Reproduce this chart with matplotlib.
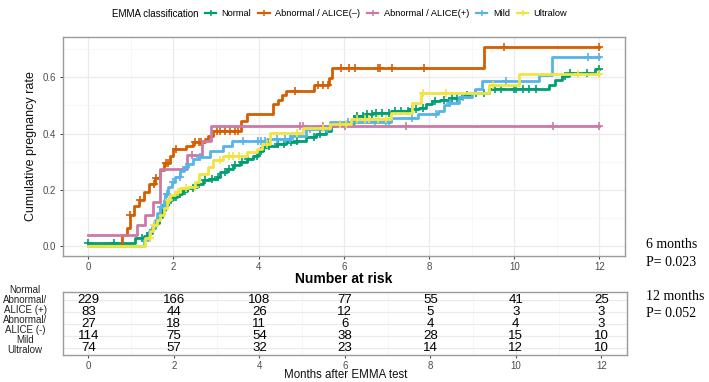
import numpy as np
import matplotlib
matplotlib.use("Agg")
import matplotlib.pyplot as plt
from matplotlib.lines import Line2D

plt.rcParams['font.family'] = ['Liberation Sans Narrow', 'Liberation Sans', 'DejaVu Sans']

# groups / colours (legend order)
groups = ["Normal", "Abnormal / ALICE(\u2013)", "Abnormal / ALICE(+)", "Mild", "Ultralow"]
colors = ["#009E73", "#D55E00", "#CC79A7", "#56B4E9", "#F0E442"]

# step curves: event times (months) and cumulative rate after each step
normal_t = [0, 1.10, 1.30, 1.38, 1.50, 1.57, 1.65, 1.73, 1.81, 1.88, 1.96, 2.08, 2.20, 2.31, 2.47,
            2.55, 2.70, 2.86, 3.02, 3.09, 3.25, 3.40, 3.56, 3.72, 3.87, 3.99, 4.11, 4.19, 4.42, 4.65,
            4.89, 5.12, 5.35, 5.59, 5.71, 5.82, 6.05, 6.25, 6.52, 6.68, 7.11, 7.54, 7.77, 7.93, 8.08,
            8.25, 8.47, 8.78, 8.98, 9.41, 10.81, 10.95, 11.12, 11.28, 11.90]
normal_v = [0.009, 0.027, 0.033, 0.045, 0.062, 0.080, 0.103, 0.127, 0.145, 0.162, 0.174, 0.186, 0.195,
            0.204, 0.209, 0.221, 0.233, 0.239, 0.245, 0.262, 0.274, 0.286, 0.298, 0.310, 0.321, 0.339,
            0.351, 0.357, 0.363, 0.368, 0.374, 0.386, 0.398, 0.410, 0.427, 0.433, 0.439, 0.462, 0.468,
            0.474, 0.480, 0.486, 0.492, 0.504, 0.515, 0.521, 0.527, 0.539, 0.545, 0.560, 0.574, 0.592,
            0.604, 0.615, 0.630]
normal_cens = [0.0, 0.6, 1.25, 1.45, 1.62, 1.75, 1.82, 1.95, 2.05, 2.15, 2.28, 2.45, 2.6, 2.75, 2.9,
               3.05, 3.2, 3.3, 3.45, 3.6, 3.75, 3.95, 4.05, 4.25, 4.45, 4.6, 4.75, 4.9, 5.3, 5.45, 6.3,
               6.45, 6.55, 6.65, 6.75, 6.9, 7.05, 7.2, 7.35, 7.5, 7.6, 7.7, 7.85, 8.15, 8.35, 8.55,
               8.65, 8.9, 9.1, 9.3, 9.55, 9.7, 10.0, 10.05, 10.2, 10.35, 10.5, 11.2, 11.3, 11.7, 12.0]

alice_neg_t = [0, 0.79, 0.91, 0.97, 1.07, 1.18, 1.30, 1.42, 1.57, 1.69, 1.77, 1.92, 2.00, 2.30, 2.45,
               2.75, 2.82, 2.92, 3.58, 3.72, 4.34, 4.45, 4.55, 4.64, 5.31, 5.65, 5.72, 9.30]
alice_neg_v = [0, 0.037, 0.062, 0.109, 0.140, 0.162, 0.190, 0.220, 0.240, 0.270, 0.295, 0.320, 0.345,
               0.357, 0.368, 0.380, 0.392, 0.409, 0.445, 0.468, 0.504, 0.521, 0.536, 0.551, 0.574,
               0.598, 0.633, 0.708]
alice_neg_cens = [0.97, 1.22, 1.55, 1.6, 1.82, 1.88, 2.05, 2.5, 2.6, 2.65, 3.02, 3.1, 3.21, 3.33, 3.44,
                  3.52, 4.85, 5.39, 5.51, 5.63, 5.94, 6.12, 6.27, 6.8, 6.85, 7.13, 7.89, 9.76, 12.0]

alice_pos_t = [0, 1.14, 1.34, 1.52, 1.69, 2.31, 2.66, 2.88]
alice_pos_v = [0.037, 0.074, 0.111, 0.157, 0.275, 0.325, 0.375, 0.426]
alice_pos_cens = [2.44, 4.96, 5.04, 5.5, 6.02, 7.46, 10.9, 12.0]

mild_t = [0, 1.30, 1.42, 1.50, 1.57, 1.61, 1.69, 1.77, 1.81, 1.88, 1.96, 2.04, 2.16, 2.24, 2.35, 2.47,
          2.59, 2.86, 3.17, 3.37, 4.19, 4.77, 5.12, 5.67, 7.10, 7.73, 8.20, 8.35, 8.47, 8.70, 9.00,
          9.07, 9.25, 10.58, 10.89]
mild_v = [0, 0.021, 0.051, 0.068, 0.092, 0.115, 0.139, 0.162, 0.186, 0.209, 0.227, 0.245, 0.268, 0.280,
          0.292, 0.310, 0.318, 0.339, 0.357, 0.374, 0.380, 0.392, 0.415, 0.440, 0.457, 0.468, 0.480,
          0.500, 0.510, 0.530, 0.545, 0.557, 0.586, 0.610, 0.672]
mild_cens = [1.7, 1.85, 2.0, 2.15, 2.3, 2.62, 3.64, 3.99, 4.06, 4.15, 4.42, 4.61, 4.73, 5.2, 5.6, 6.1,
             6.72, 6.99, 7.07, 7.6, 8.16, 8.5, 8.8, 9.8, 11.74, 12.0]

ultralow_t = [0, 1.34, 1.46, 1.53, 1.61, 1.69, 1.77, 1.85, 1.92, 2.04, 2.16, 2.35, 2.51, 2.59, 2.82,
              2.94, 3.17, 3.72, 3.95, 4.07, 4.26, 5.04, 5.67, 6.17, 7.10, 7.61, 7.80, 9.40, 10.10]
ultralow_v = [0, 0.027, 0.051, 0.074, 0.092, 0.109, 0.135, 0.162, 0.180, 0.192, 0.204, 0.210, 0.227,
              0.257, 0.280, 0.304, 0.321, 0.333, 0.345, 0.363, 0.403, 0.421, 0.433, 0.451, 0.474,
              0.509, 0.545, 0.574, 0.612]
ultralow_cens = [1.45, 1.55, 1.9, 2.1, 2.3, 2.5, 3.1, 3.3, 3.4, 3.55, 4.2, 4.9, 5.5, 5.9, 6.05, 6.3,
                 6.5, 6.6, 6.8, 7.0, 7.85, 8.4, 9.5, 11.5, 12.0]

end_time = 12.0

# number at risk table
risk_times = [0, 2, 4, 6, 8, 10, 12]
risk_labels = ["Normal", "Abnormal/\nALICE (+)", "Abnormal/\nALICE (-)", "Mild", "Ultralow"]
risk_normal = [229, 166, 108, 77, 55, 41, 25]
risk_alice_pos = [83, 44, 26, 12, 5, 3, 3]
risk_alice_neg = [27, 18, 11, 6, 4, 4, 3]
risk_mild = [114, 75, 54, 38, 28, 15, 10]
risk_ultralow = [74, 57, 32, 23, 14, 12, 10]

curves = [(normal_t, normal_v, normal_cens),
          (alice_neg_t, alice_neg_v, alice_neg_cens),
          (alice_pos_t, alice_pos_v, alice_pos_cens),
          (mild_t, mild_v, mild_cens),
          (ultralow_t, ultralow_v, ultralow_cens)]
risk_rows = [risk_normal, risk_alice_pos, risk_alice_neg, risk_mild, risk_ultralow]

W, H = 709, 382
fig = plt.figure(figsize=(W / 100, H / 100), dpi=100)

border = "#9a9a9a"
tick_col = "#4d4d4d"


def style_panel(ax):
    for s in ax.spines.values():
        s.set_color(border)
        s.set_linewidth(1.0)
    ax.tick_params(axis="both", colors=tick_col, labelcolor=tick_col, labelsize=7,
                   length=2.5, width=0.8, pad=2)
    ax.set_axisbelow(True)


# ---- main KM panel
ax = fig.add_axes([62.7 / W, 1 - 255.7 / H, (625 - 62.7) / W, (255.7 - 36.7) / H])
style_panel(ax)
ax.set_xlim(-0.6, 12.6)
ax.set_ylim(-0.0355, 0.745)
ax.set_xticks(np.arange(0, 13, 2))
ax.set_xticks(np.arange(1, 12, 2), minor=True)
ax.set_yticks([0.0, 0.2, 0.4, 0.6])
ax.set_yticks([0.1, 0.3, 0.5, 0.7], minor=True)
ax.set_yticklabels(["0.0", "0.2", "0.4", "0.6"])
ax.tick_params(which="minor", length=0)
ax.grid(which="major", color="#EBEBEB", lw=0.9)
ax.grid(which="minor", color="#F4F4F4", lw=0.5)
ax.set_ylabel("Cumulative pregnancy rate", fontsize=9, color="#111111")
ax.yaxis.set_label_coords(-0.045, 0.5)

for (t, v, cens), col in zip(curves, colors):
    t = np.asarray(t)
    v = np.asarray(v)
    ax.step(np.append(t, end_time), np.append(v, v[-1]), where="post", color=col, lw=2.0)
    cens = np.asarray(cens)
    idx = np.searchsorted(t, cens, side="right") - 1
    ax.plot(cens, v[idx], ls="none", marker="+", color=col, ms=5.5, mew=1.2)

# legend on top
fig.text(199 / W, 1 - 13.6 / H, "EMMA classification", fontsize=7.0, va="center", ha="right")
handles = [Line2D([], [], color=c, lw=1.6, marker="+", ms=5, mew=1.1) for c in colors]
fig.legend(handles, groups, loc="center left", bbox_to_anchor=(205 / W, 1 - 13.6 / H),
           ncol=5, frameon=False, fontsize=6.7, handlelength=1.2, handletextpad=0.6,
           columnspacing=0.75, borderpad=0, borderaxespad=0)

# ---- risk table
axt = fig.add_axes([62.7 / W, 1 - 354.5 / H, (627 - 62.7) / W, (354.5 - 291.7) / H])
style_panel(axt)
axt.set_xlim(-0.6, 12.6)
axt.set_ylim(0.5, 5.7)
axt.set_xticks(np.arange(0, 13, 2))
axt.set_xticks(np.arange(1, 12, 2), minor=True)
axt.set_yticks([1, 2, 3, 4, 5])
axt.set_yticklabels([])
axt.tick_params(axis="y", length=0)
axt.tick_params(which="minor", length=0)
axt.grid(which="major", color="#EBEBEB", lw=0.9)
axt.grid(which="minor", axis="x", color="#F4F4F4", lw=0.5)
for i, row in enumerate(risk_rows):
    for x, n in zip(risk_times, row):
        axt.text(x, 5 - i, str(n), ha="center", va="center", fontsize=9.5, color="black")

fig.text(25 / W, 1 - 320.4 / H, "\n".join(risk_labels), ha="center", va="center",
         fontsize=7, linespacing=1.0, color="#222222")

fig.text(343.9 / W, 1 - 279.3 / H, "Number at risk", ha="center", va="center",
         fontsize=10, fontweight="bold")
fig.text(345.8 / W, 1 - 375.5 / H, "Months after EMMA test", ha="center", va="center",
         fontsize=8.3, color="#111111")

# p-value annotations
serif = ["Liberation Serif", "DejaVu Serif"]
fig.text(645.7 / W, 1 - 245 / H, "6 months", family=serif, fontsize=10, va="center")
fig.text(645.7 / W, 1 - 262.3 / H, "P= 0.023", family=serif, fontsize=10, va="center")
fig.text(645.7 / W, 1 - 296.7 / H, "12 months", family=serif, fontsize=10, va="center")
fig.text(645.7 / W, 1 - 313.3 / H, "P= 0.052", family=serif, fontsize=10, va="center")

fig.savefig("out.png", dpi=100)
